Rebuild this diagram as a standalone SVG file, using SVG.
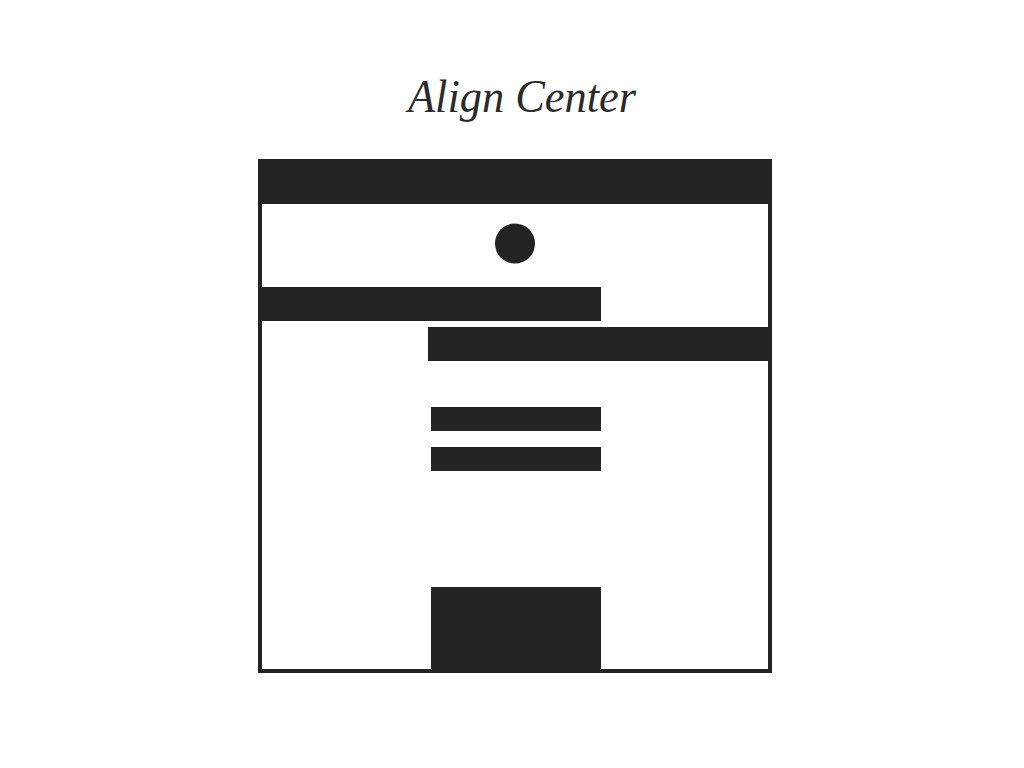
<svg xmlns="http://www.w3.org/2000/svg" width="1024" height="768" viewBox="0 0 1024 768">
<style>
.fill{fill:#232323}
.title{font-family:"Liberation Serif",serif;font-style:italic;font-size:46px;fill:#2a2a2a}
</style>
<rect width="1024" height="768" fill="#ffffff"/>
<text class="title" x="522" y="112" text-anchor="middle" textLength="228" lengthAdjust="spacingAndGlyphs">Align Center</text>
<g id="frame">
<rect x="260" y="161" width="510" height="510" fill="none" stroke="#232323" stroke-width="4"/>
</g>
<g id="header"><rect class="fill" x="258" y="159" width="514" height="45"/></g>
<g id="dot"><circle class="fill" cx="515" cy="243.5" r="20"/></g>
<g id="bar-left"><rect class="fill" x="260" y="287" width="341" height="34"/></g>
<g id="bar-right"><rect class="fill" x="428" y="327" width="342" height="34"/></g>
<g id="line1"><rect class="fill" x="431" y="407" width="170" height="24"/></g>
<g id="line2"><rect class="fill" x="431" y="447" width="170" height="24"/></g>
<g id="footer-block"><rect class="fill" x="431" y="587" width="170" height="84"/></g>
</svg>
